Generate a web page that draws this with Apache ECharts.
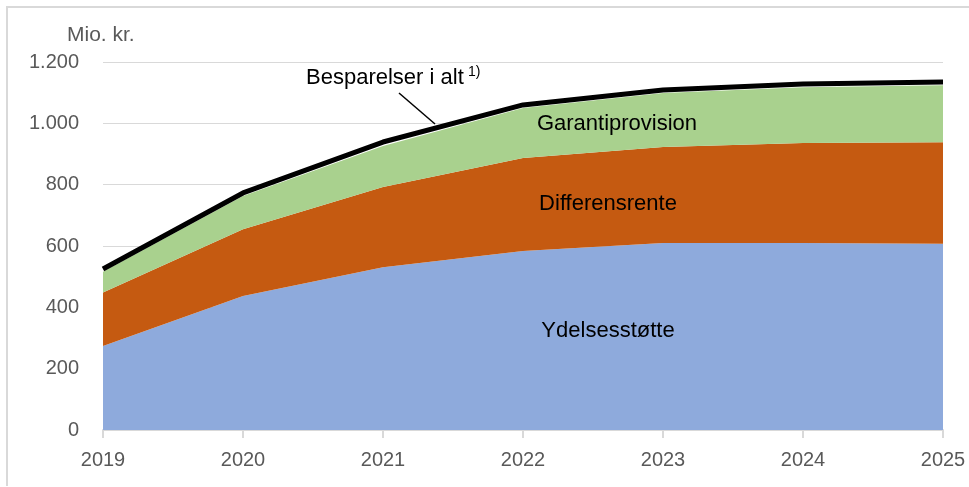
<!DOCTYPE html>
<html>
<head>
<meta charset="utf-8">
<script src="https://cdn.jsdelivr.net/npm/echarts@6/dist/echarts.min.js"></script>
<style>html,body{margin:0;padding:0;background:#fff}#c{width:969px;height:487px}</style>
</head>
<body>
<div id="c"></div>
<script>
const years = ['2019','2020','2021','2022','2023','2024','2025'];
const ydelsesstotte = [274, 437, 531, 584, 610, 610, 607];
const differensrente = [174, 218, 261, 303, 313, 326, 331];
const garantiprovision = [68, 108, 134, 163, 176, 182, 186];
const besparelserIAlt = [525, 773, 939, 1060, 1109, 1128, 1135];
const yTicks = [0, 200, 400, 600, 800, 1000, 1200];

const FONT = 'Liberation Sans';
const chart = echarts.init(document.getElementById('c'));
function fmt(v){ return String(v).replace(/\B(?=(\d{3})+(?!\d))/g, '.'); }
const area = (name, data, color) => ({
  name, type: 'line', stack: 'tot', data, symbol: 'none', smooth: false,
  lineStyle: { width: 0 }, areaStyle: { color, opacity: 1 }, itemStyle: { color }, z: 2
});
chart.setOption({
  animation: false,
  grid: { left: 103, right: 26, top: 62, bottom: 57, containLabel: false },
  xAxis: {
    type: 'category', data: years, boundaryGap: false,
    axisLine: { lineStyle: { color: '#d9d9d9', width: 2 } },
    axisTick: { show: true, length: 8, lineStyle: { color: '#d9d9d9', width: 2 } },
    axisLabel: { color: '#595959', fontSize: 20, fontFamily: FONT, margin: 20 }
  },
  yAxis: {
    type: 'value', min: yTicks[0], max: yTicks[yTicks.length-1], interval: 200,
    axisLine: { show: false }, axisTick: { show: false },
    splitLine: { lineStyle: { color: '#d9d9d9', width: 1 } },
    axisLabel: { color: '#595959', fontSize: 20, fontFamily: FONT, margin: 24, formatter: fmt }
  },
  series: [
    area('Ydelsesstøtte', ydelsesstotte, '#8eaadc'),
    area('Differensrente', differensrente, '#c55a11'),
    area('Garantiprovision', garantiprovision, '#a9d18e'),
    { name: 'Besparelser i alt', type: 'line', data: besparelserIAlt, symbol: 'none',
      lineStyle: { color: '#000', width: 5 }, z: 5 }
  ],
  graphic: [
    { type: 'polyline', shape: { points: [[7, 486], [7, 7], [969, 7]] }, style: { stroke: '#d9d9d9', lineWidth: 2, fill: null }, silent: true },
    { type: 'text', x: 67, y: 35, style: { text: 'Mio. kr.', fill: '#595959', font: '21px ' + FONT, textVerticalAlign: 'middle' } },
    { type: 'text', x: 306, y: 78, style: { text: 'Besparelser i alt', fill: '#000', font: '22px ' + FONT, textVerticalAlign: 'middle' }, z: 10 },
    { type: 'text', x: 468, y: 72, style: { text: '1)', fill: '#000', font: '14px ' + FONT, textVerticalAlign: 'middle' }, z: 10 },
    { type: 'line', shape: { x1: 399, y1: 93, x2: 435, y2: 124 }, style: { stroke: '#000', lineWidth: 1.5 }, z: 10 },
    { type: 'text', x: 617, y: 124, style: { text: 'Garantiprovision', fill: '#000', font: '22px ' + FONT, textAlign: 'center', textVerticalAlign: 'middle' }, z: 10 },
    { type: 'text', x: 608, y: 204, style: { text: 'Differensrente', fill: '#000', font: '22px ' + FONT, textAlign: 'center', textVerticalAlign: 'middle' }, z: 10 },
    { type: 'text', x: 608, y: 331, style: { text: 'Ydelsesstøtte', fill: '#000', font: '22px ' + FONT, textAlign: 'center', textVerticalAlign: 'middle' }, z: 10 }
  ]
});
</script>
</body>
</html>
